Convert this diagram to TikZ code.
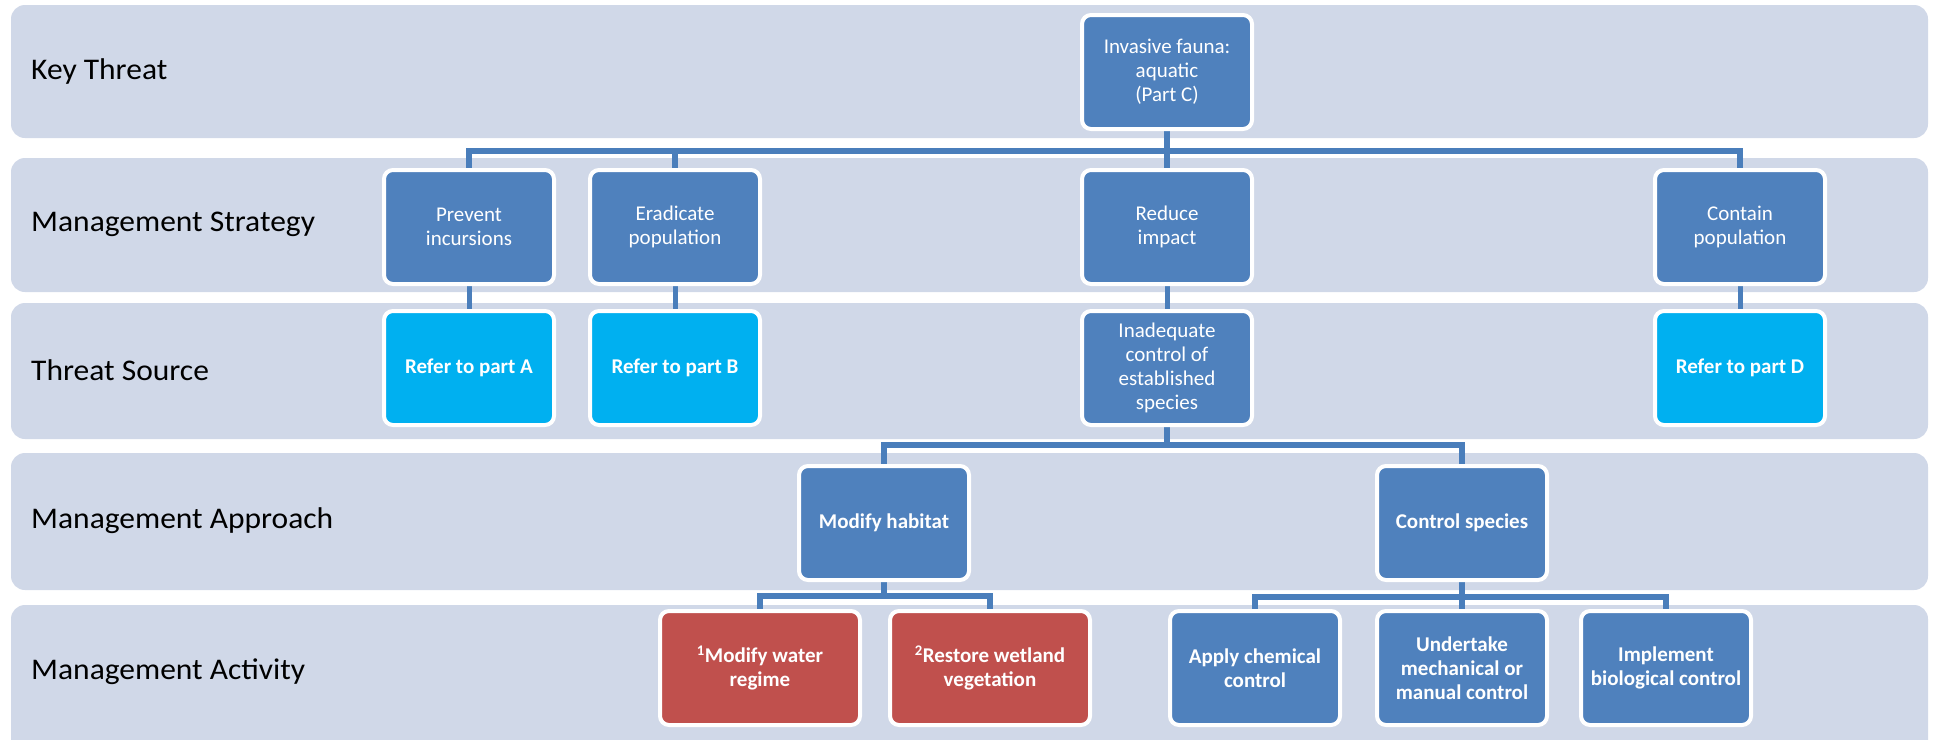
\documentclass[tikz,border=0pt]{standalone}
\usepackage{fontspec}
\setmainfont{Carlito}
\newfontfamily\captionface[FakeStretch=1.05]{Carlito}
\usetikzlibrary{backgrounds}

\definecolor{bandfill}{HTML}{D0D8E8}
\definecolor{boxblue}{HTML}{4F81BD}
\definecolor{boxcyan}{HTML}{00B0F0}
\definecolor{boxred}{HTML}{C0504D}
\definecolor{linkblue}{HTML}{4A7EBB}

\begin{document}
\begin{tikzpicture}[x=1pt,y=-1pt,
  band/.style={fill=bandfill, rounded corners=14pt},
  rowlabel/.style={anchor=west, inner sep=0pt, text=black,
    font=\captionface\fontsize{30}{33}\selectfont},
  card/.style={draw=white, line width=4pt, rounded corners=9pt,
    minimum width=170pt, minimum height=114pt, inner sep=0pt,
    align=center, text=white, font=\fontsize{21}{24}\selectfont},
  bluecard/.style={card, fill=boxblue},
  boldblue/.style={bluecard, font=\fontsize{21}{24}\selectfont\bfseries},
  cyancard/.style={card, fill=boxcyan, font=\fontsize{21}{24}\selectfont\bfseries},
  redcard/.style={card, fill=boxred, minimum width=200pt,
    font=\fontsize{21}{24}\selectfont\bfseries},
  link/.style={draw=linkblue, line width=6pt},
  drop/.style={draw=linkblue, line width=5pt},
]
\useasboundingbox (0,0) rectangle (1933,739);
\clip (0,0) rectangle (1933,739);

% row captions
\node[rowlabel] (lkey)  at (31,71)  {Key Threat};
\node[rowlabel] (lstr)  at (31,224) {Management Strategy};
\node[rowlabel] (lsrc)  at (31,370) {Threat Source};
\node[rowlabel] (lapp)  at (31,521) {Management Approach};
\node[rowlabel] (lact)  at (31,672) {Management Activity};

% key threat
\node[bluecard] (kt) at (1167,72) {Invasive fauna:\\aquatic\\(Part C)};

% management strategies
\node[bluecard] (prev)    at (469,227)  {Prevent\\incursions};
\node[bluecard] (erad)    at (675,227)  {Eradicate\\population};
\node[bluecard] (reduce)  at (1167,227) {Reduce\\impact};
\node[bluecard] (contain) at (1740,227) {Contain\\population};

% threat sources
\node[cyancard] (refa) at (469,368)  {Refer to part A};
\node[cyancard] (refb) at (675,368)  {Refer to part B};
\node[bluecard] (inad) at (1167,368) {Inadequate\\control of\\established\\species};
\node[cyancard] (refd) at (1740,368) {Refer to part D};

% management approaches
\node[boldblue] (modhab) at (884,523)  {Modify habitat};
\node[boldblue] (ctrl)   at (1462,523) {Control species};

% management activities
\node[redcard]  (water)   at (760,668)  {\textsuperscript{1}Modify water\\regime};
\node[redcard]  (wetland) at (990,668)  {\textsuperscript{2}Restore wetland\\vegetation};
\node[boldblue] (chem)    at (1255,668) {Apply chemical\\control};
\node[boldblue] (mech)    at (1462,668) {Undertake\\mechanical or\\manual control};
\node[boldblue] (bio)     at (1666,668) {Implement\\biological control};

% bus junctions
\coordinate (j1) at (1167,151);
\coordinate (j2) at (1167,445);
\coordinate (j3) at (884,596);
\coordinate (j4) at (1462,597);

\begin{scope}[on background layer]
  \fill[white] (0,0) rectangle (1933,739);
  \fill[band] (11,5)   rectangle (1928,138);
  \fill[band] (11,158) rectangle (1928,292);
  \fill[band] (11,303) rectangle (1928,439);
  \fill[band] (11,453) rectangle (1928,590);
  \fill[band] (11,605) rectangle (1928,780);

  % key threat to strategies
  \draw[link] (kt.south) -- (reduce.north);
  \draw[link] (prev.north) |- (j1) -| (contain.north);
  \draw[link] (erad.north) -- (erad.north |- j1);

  % strategies to sources
  \draw[drop] (prev.south) -- (refa.north);
  \draw[drop] (erad.south) -- (refb.north);
  \draw[drop] (reduce.south) -- (inad.north);
  \draw[drop] (contain.south) -- (refd.north);

  % source to approaches
  \draw[link] (inad.south) -- (j2);
  \draw[link] (modhab.north) |- (j2) -| (ctrl.north);

  % approaches to activities
  \draw[link] (modhab.south) -- (j3);
  \draw[link] (water.north) |- (j3) -| (wetland.north);
  \draw[link] (ctrl.south) -- (mech.north);
  \draw[link] (chem.north) |- (j4) -| (bio.north);
\end{scope}
\end{tikzpicture}
\end{document}
